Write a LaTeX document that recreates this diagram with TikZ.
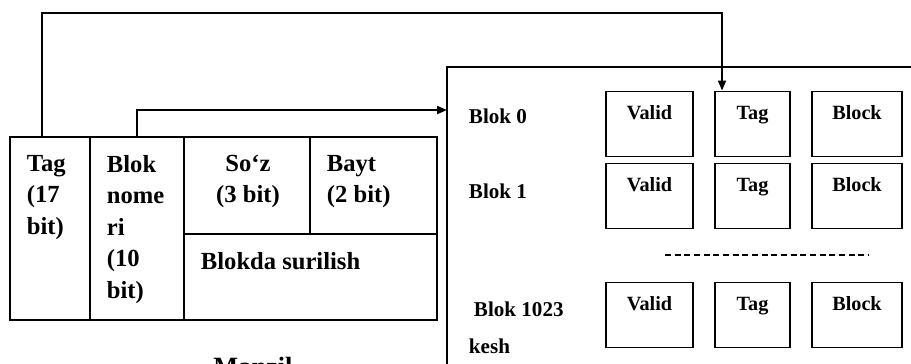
\documentclass[tikz,border=0pt]{standalone}
\usepackage{fontspec}
\setmainfont{Liberation Serif}
\usetikzlibrary{arrows.meta,positioning}

\begin{document}
\begin{tikzpicture}[x=0.02cm,y=-0.02cm,line width=1.1pt,
    field/.style={draw,inner sep=0pt,outer sep=0pt},
    txt/.style={inner sep=0pt,align=left,font=\fontsize{14}{18}\selectfont\bfseries},
    cell/.style={draw,inner xsep=0pt,inner ysep=0pt,text height=0.55cm,text depth=0.75cm,
      font=\fontsize{11.5}{13}\selectfont\bfseries},
    lab/.style={inner sep=0pt,anchor=base west,font=\fontsize{12}{14}\selectfont\bfseries},
    arr/.style={-{Triangle[length=0.2cm,width=0.16cm]}}]
  \useasboundingbox (0,0) rectangle (911,363);
  \clip (0,0) rectangle (911,363);
  % address
  \node[field,minimum width=1.6cm,minimum height=3.66cm,anchor=north west] (tagf) at (10,137) {};
  \node[field,minimum width=1.88cm,minimum height=3.66cm,right=0pt of tagf] (blokf) {};
  \node[field,minimum width=2.52cm,minimum height=1.94cm,anchor=north west] (sozf) at (blokf.north east) {};
  \node[field,minimum width=2.54cm,minimum height=1.94cm,right=0pt of sozf] (baytf) {};
  \node[field,minimum width=5.06cm,minimum height=1.72cm,anchor=north west] (offf) at (sozf.south west) {};
  \node[txt,anchor=north west] (tagt) at (26,154) {Tag\\(17\\bit)};
  \node[txt,anchor=north west] (blokt) at (106,154) {Blok\\nome\\ri\\(10\\bit)};
  \node[txt,anchor=north,align=center] (sozt) at (248,154) {So‘z\\(3 bit)};
  \node[txt,anchor=north west] (baytt) at (326,154) {Bayt\\(2 bit)};
  \node[txt,anchor=north west] (offt) at (200,251) {Blokda surilish};
  \node[txt,anchor=north,font=\fontsize{15}{18}\selectfont\bfseries] (manzil) at (253,356) {Manzil};
  % cache
  \coordinate (kesh) at (447,67);
  \draw (kesh) rectangle (960,420);
  \foreach \r/\y in {0/124,1/196,2/315} {
    \node[cell,minimum width=1.74cm] (v\r) at (649.5,\y) {Valid};
    \node[cell,minimum width=1.5cm] (t\r) at (752.5,\y) {Tag};
    \node[cell,minimum width=1.8cm] (b\r) at (857,\y) {Block};
  }
  \node[lab] (l0) at (468,123) {Blok 0};
  \node[lab] (l1) at (468,198) {Blok 1};
  \node[lab] (l2) at (473,316) {Blok 1023};
  \node[lab] (keshl) at (468,353) {kesh};
  \draw[dash pattern=on 3.5pt off 2pt,line width=1pt] (665,255) -- (868,255);
  % arrows
  \draw[arr] ([xshift=0.64cm]tagf.north west) -- ++(0,-124) -| ([xshift=0.16cm]t0.north west);
  \draw[arr] (blokf.north) -- ++(0,-27) coordinate (bk) -- (bk -| kesh);
\end{tikzpicture}
\end{document}
